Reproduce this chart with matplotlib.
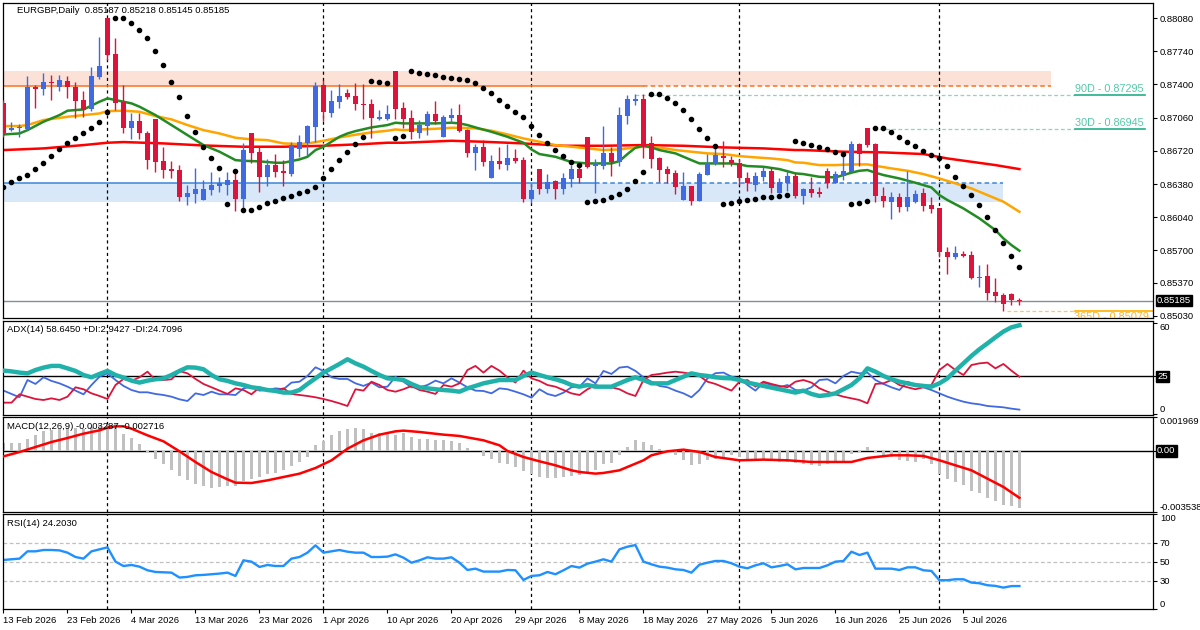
import numpy as np
import matplotlib
matplotlib.use("Agg")
import matplotlib.pyplot as plt
import matplotlib.transforms as mtransforms

plt.rcParams["font.family"] = ["Liberation Sans", "DejaVu Sans"]

# ---- data, bar 0 = 13 Feb 2026, bar 127 = last bar ----
opens = [0.87206, 0.86936, 0.86950, 0.86939, 0.87376, 0.87349, 0.87424, 0.87376, 0.87434, 0.87369,
         0.87240, 0.87144, 0.87479, 0.88076, 0.87711, 0.87223, 0.86956, 0.87025, 0.86905, 0.87045,
         0.86615, 0.86533, 0.86523, 0.86250, 0.86277, 0.86216, 0.86318, 0.86362, 0.86369, 0.86420,
         0.86229, 0.86902, 0.86704, 0.86454, 0.86577, 0.86513, 0.86482, 0.86734, 0.86796, 0.86967,
         0.87390, 0.87110, 0.87223, 0.87308, 0.87281, 0.87202, 0.87199, 0.87049, 0.87049, 0.87537,
         0.87154, 0.87059, 0.86905, 0.86977, 0.87096, 0.86864, 0.87059, 0.87086, 0.86932, 0.86700,
         0.86758, 0.86444, 0.86612, 0.86577, 0.86642, 0.86625, 0.86222, 0.86530, 0.86332, 0.86407,
         0.86332, 0.86434, 0.86533, 0.86861, 0.86564, 0.86567, 0.86694, 0.86608, 0.87076, 0.87233,
         0.87250, 0.86796, 0.86642, 0.86533, 0.86492, 0.86216, 0.86359, 0.86209, 0.86472, 0.86584,
         0.86666, 0.86625, 0.86591, 0.86437, 0.86369, 0.86454, 0.86513, 0.86284, 0.86393, 0.86461,
         0.86257, 0.86325, 0.86298, 0.86513, 0.86393, 0.86461, 0.86506, 0.86789, 0.86956, 0.86789,
         0.86257, 0.86199, 0.86250, 0.86147, 0.86199, 0.86284, 0.86164, 0.86130, 0.85680, 0.85635,
         0.85663, 0.85652, 0.85420, 0.85437, 0.85273, 0.85242, 0.85249, 0.85187]
highs = [0.87240, 0.87018, 0.86994, 0.87486, 0.87393, 0.87520, 0.87496, 0.87496, 0.87486, 0.87428,
         0.87335, 0.87581, 0.87888, 0.88080, 0.87878, 0.87393, 0.87110, 0.87103, 0.86926, 0.87045,
         0.86762, 0.86615, 0.86574, 0.86369, 0.86547, 0.86420, 0.86499, 0.86454, 0.86506, 0.86523,
         0.86796, 0.86902, 0.86762, 0.86632, 0.86683, 0.86625, 0.86813, 0.86881, 0.86984, 0.87428,
         0.87445, 0.87342, 0.87404, 0.87349, 0.87411, 0.87404, 0.87247, 0.87137, 0.87185, 0.87537,
         0.87223, 0.87137, 0.87035, 0.87127, 0.87230, 0.87086, 0.87161, 0.87199, 0.86939, 0.86789,
         0.86830, 0.86677, 0.86762, 0.86789, 0.86738, 0.86653, 0.86393, 0.86530, 0.86482, 0.86420,
         0.86489, 0.86574, 0.86567, 0.86861, 0.86632, 0.86974, 0.86762, 0.87165, 0.87291, 0.87298,
         0.87298, 0.86871, 0.86659, 0.86564, 0.86523, 0.86502, 0.86359, 0.86506, 0.86683, 0.86762,
         0.86820, 0.86670, 0.86632, 0.86506, 0.86506, 0.86557, 0.86557, 0.86444, 0.86516, 0.86489,
         0.86335, 0.86454, 0.86352, 0.86540, 0.86513, 0.86683, 0.86823, 0.86803, 0.86956, 0.86803,
         0.86345, 0.86301, 0.86284, 0.86513, 0.86318, 0.86335, 0.86250, 0.86130, 0.85738, 0.85744,
         0.85697, 0.85697, 0.85550, 0.85560, 0.85413, 0.85267, 0.85267, 0.85218]
lows = [0.86864, 0.86926, 0.86864, 0.86932, 0.87161, 0.87291, 0.87240, 0.87332, 0.87264, 0.87059,
        0.87069, 0.87131, 0.87458, 0.87649, 0.87137, 0.86898, 0.86844, 0.86837, 0.86537, 0.86506,
        0.86437, 0.86437, 0.86209, 0.86168, 0.86188, 0.86216, 0.86267, 0.86301, 0.86267, 0.86106,
        0.86120, 0.86598, 0.86295, 0.86362, 0.86454, 0.86362, 0.86465, 0.86653, 0.86666, 0.86806,
        0.87028, 0.87069, 0.87161, 0.87247, 0.87137, 0.87042, 0.86854, 0.87035, 0.87035, 0.87045,
        0.86950, 0.86837, 0.86854, 0.86881, 0.86991, 0.86864, 0.87001, 0.86915, 0.86659, 0.86523,
        0.86567, 0.86444, 0.86537, 0.86523, 0.86598, 0.86199, 0.86188, 0.86277, 0.86291, 0.86226,
        0.86274, 0.86352, 0.86387, 0.86547, 0.86291, 0.86530, 0.86465, 0.86567, 0.86994, 0.87189,
        0.86649, 0.86540, 0.86403, 0.86387, 0.86277, 0.86216, 0.86164, 0.86209, 0.86472, 0.86574,
        0.86550, 0.86564, 0.86369, 0.86311, 0.86308, 0.86410, 0.86291, 0.86284, 0.86311, 0.86239,
        0.86175, 0.86250, 0.86243, 0.86335, 0.86387, 0.86420, 0.86506, 0.86567, 0.86762, 0.86199,
        0.86147, 0.86021, 0.86089, 0.86106, 0.86182, 0.86106, 0.86079, 0.85628, 0.85458, 0.85608,
        0.85635, 0.85403, 0.85328, 0.85192, 0.85174, 0.85082, 0.85140, 0.85145]
closes = [0.86898, 0.86956, 0.86963, 0.87369, 0.87349, 0.87424, 0.87411, 0.87445, 0.87376, 0.87233,
          0.87137, 0.87486, 0.87588, 0.87701, 0.87212, 0.86956, 0.87025, 0.86898, 0.86625, 0.86605,
          0.86523, 0.86516, 0.86250, 0.86291, 0.86328, 0.86328, 0.86369, 0.86387, 0.86420, 0.86229,
          0.86728, 0.86694, 0.86454, 0.86577, 0.86506, 0.86496, 0.86779, 0.86806, 0.86974, 0.87383,
          0.87120, 0.87230, 0.87281, 0.87274, 0.87195, 0.87192, 0.87052, 0.87062, 0.87096, 0.87151,
          0.87045, 0.86909, 0.86984, 0.87096, 0.87028, 0.87066, 0.87086, 0.86926, 0.86700, 0.86758,
          0.86608, 0.86615, 0.86588, 0.86649, 0.86618, 0.86222, 0.86318, 0.86332, 0.86400, 0.86332,
          0.86441, 0.86533, 0.86444, 0.86557, 0.86591, 0.86694, 0.86601, 0.87086, 0.87250, 0.87250,
          0.86762, 0.86636, 0.86523, 0.86482, 0.86352, 0.86359, 0.86209, 0.86482, 0.86591, 0.86677,
          0.86649, 0.86591, 0.86437, 0.86387, 0.86461, 0.86513, 0.86342, 0.86403, 0.86465, 0.86257,
          0.86325, 0.86291, 0.86274, 0.86393, 0.86482, 0.86513, 0.86789, 0.86683, 0.86779, 0.86260,
          0.86205, 0.86250, 0.86147, 0.86250, 0.86277, 0.86158, 0.86123, 0.85680, 0.85635, 0.85669,
          0.85646, 0.85420, 0.85430, 0.85267, 0.85236, 0.85151, 0.85192, 0.85185]

sar = [0.86352, 0.86403, 0.86437, 0.86472, 0.86533, 0.86591, 0.86666, 0.86738, 0.86796, 0.86854,
       0.86898, 0.86956, 0.87011, 0.87120, 0.88083, 0.88083, 0.88032, 0.87957, 0.87878, 0.87745,
       0.87595, 0.87428, 0.87274, 0.87079, 0.86909, 0.86755, 0.86642, 0.86547, 0.86178, 0.86516,
       0.86113, 0.86113, 0.86147, 0.86182, 0.86209, 0.86236, 0.86260, 0.86291, 0.86308, 0.86352,
       0.86444, 0.86533, 0.86625, 0.86704, 0.86786, 0.86864, 0.87434, 0.87428, 0.87417, 0.86854,
       0.86875, 0.87537, 0.87520, 0.87506, 0.87496, 0.87472, 0.87462, 0.87451, 0.87445, 0.87417,
       0.87359, 0.87315, 0.87240, 0.87178, 0.87117, 0.87062, 0.86974, 0.86881, 0.86803, 0.86728,
       0.86666, 0.86605, 0.86577, 0.86195, 0.86205, 0.86216, 0.86243, 0.86277, 0.86328, 0.86410,
       0.86502, 0.87301, 0.87301, 0.87260, 0.87209, 0.87137, 0.87045, 0.86943, 0.86851, 0.86769,
       0.86175, 0.86185, 0.86202, 0.86212, 0.86222, 0.86243, 0.86250, 0.86257, 0.86267, 0.86820,
       0.86803, 0.86779, 0.86762, 0.86738, 0.86711, 0.86687, 0.86175, 0.86182, 0.86205, 0.86956,
       0.86956, 0.86909, 0.86864, 0.86810, 0.86769, 0.86717, 0.86673, 0.86642, 0.86567, 0.86455,
       0.86362, 0.86270, 0.86164, 0.86042, 0.85908, 0.85779, 0.85642, 0.85529]

# moving averages, read at selected bars
ma_fast_idx = [0, 2, 3, 5, 7, 8, 10, 12, 13, 15, 16, 17, 19, 21, 23, 25, 27, 29, 30, 32,
               34, 35, 36, 37, 38, 39, 40, 41, 42, 43, 44, 46, 48, 49, 50, 52, 54, 56, 57, 58,
               59, 61, 63, 65, 66, 67, 69, 71, 73, 75, 76, 77, 78, 79, 80, 81, 82, 84, 86, 87,
               89, 91, 92, 93, 95, 97, 99, 100, 102, 104, 105, 106, 107, 108, 109, 110, 112, 114, 116, 117,
               118, 120, 122, 124, 125, 126, 127]
ma_fast = [0.86888, 0.86898, 0.86932, 0.87018, 0.87086, 0.87131, 0.87144, 0.87223, 0.87257, 0.87223,
           0.87206, 0.87172, 0.87086, 0.86984, 0.86881, 0.86779, 0.86711, 0.86625, 0.86618, 0.86612,
           0.86598, 0.86598, 0.86615, 0.86632, 0.86659, 0.86728, 0.86762, 0.86813, 0.86864, 0.86898,
           0.86922, 0.86960, 0.86984, 0.87008, 0.87001, 0.87001, 0.87001, 0.87008, 0.87001, 0.86984,
           0.86960, 0.86915, 0.86864, 0.86803, 0.86734, 0.86687, 0.86659, 0.86605, 0.86591, 0.86591,
           0.86591, 0.86615, 0.86687, 0.86752, 0.86772, 0.86755, 0.86728, 0.86694, 0.86625, 0.86591,
           0.86591, 0.86591, 0.86581, 0.86564, 0.86557, 0.86533, 0.86489, 0.86482, 0.86454, 0.86448,
           0.86472, 0.86496, 0.86516, 0.86523, 0.86496, 0.86472, 0.86437, 0.86393, 0.86345, 0.86267,
           0.86216, 0.86130, 0.86028, 0.85908, 0.85823, 0.85755, 0.85697]
ma_mid_idx = [0, 2, 3, 5, 8, 10, 12, 13, 15, 17, 19, 21, 23, 25, 27, 29, 31, 33, 35, 37,
              38, 40, 42, 44, 46, 48, 49, 50, 52, 54, 56, 57, 59, 61, 63, 65, 67, 69, 71, 73,
              75, 77, 78, 80, 82, 84, 86, 88, 90, 92, 94, 96, 98, 99, 100, 102, 104, 106, 108, 109,
              111, 113, 115, 117, 119, 121, 123, 125, 127]
ma_mid = [0.86974, 0.86974, 0.86984, 0.87035, 0.87069, 0.87086, 0.87103, 0.87127, 0.87131, 0.87120,
          0.87076, 0.87042, 0.86984, 0.86932, 0.86898, 0.86854, 0.86837, 0.86830, 0.86796, 0.86789,
          0.86796, 0.86823, 0.86857, 0.86885, 0.86909, 0.86926, 0.86939, 0.86932, 0.86939, 0.86946,
          0.86956, 0.86956, 0.86950, 0.86926, 0.86888, 0.86847, 0.86813, 0.86779, 0.86762, 0.86745,
          0.86728, 0.86734, 0.86745, 0.86762, 0.86752, 0.86728, 0.86711, 0.86694, 0.86687, 0.86666,
          0.86653, 0.86642, 0.86625, 0.86601, 0.86598, 0.86574, 0.86574, 0.86581, 0.86581, 0.86567,
          0.86540, 0.86516, 0.86482, 0.86437, 0.86387, 0.86335, 0.86267, 0.86199, 0.86096]
ma_slow_idx = [0, 5, 10, 13, 15, 20, 25, 30, 35, 40, 45, 48, 50, 56, 60, 65, 70, 75, 80, 85,
               90, 95, 99, 100, 105, 110, 115, 118, 121, 124, 127]
ma_slow = [0.86728, 0.86745, 0.86779, 0.86803, 0.86810, 0.86796, 0.86775, 0.86762, 0.86762, 0.86772,
           0.86789, 0.86803, 0.86803, 0.86823, 0.86813, 0.86796, 0.86772, 0.86772, 0.86779, 0.86772,
           0.86755, 0.86745, 0.86728, 0.86728, 0.86711, 0.86704, 0.86687, 0.86642, 0.86608, 0.86574,
           0.86533]

adx = [28.7, 28.2, 27.4, 26.9, 29.1, 30.7, 31.8, 31.8, 30.2, 28.5,
       25.8, 24.3, 26.5, 28.5, 25.8, 24.1, 22.1, 20.8, 22.1, 23.0,
       23.6, 25.8, 28.5, 30.9, 30.7, 29.6, 25.8, 23.0, 21.9, 20.3,
       19.2, 17.7, 17.0, 15.9, 15.3, 14.2, 14.2, 15.9, 19.9, 23.6,
       27.4, 30.2, 33.1, 36.2, 33.5, 31.3, 28.5, 25.8, 23.6, 23.2,
       22.5, 19.9, 17.7, 17.0, 16.4, 15.9, 15.5, 14.8, 17.0, 18.6,
       20.3, 21.4, 22.5, 22.5, 22.5, 25.2, 27.4, 25.8, 24.3, 23.0,
       21.4, 19.2, 18.1, 19.2, 18.1, 18.1, 18.1, 20.3, 22.5, 24.3,
       22.5, 20.3, 20.3, 20.3, 22.5, 24.7, 26.9, 25.8, 25.2, 24.3,
       23.8, 23.6, 22.5, 20.8, 19.7, 18.6, 17.5, 16.4, 15.25, 14.2,
       15.5, 13.3, 11.95, 12.6, 13.7, 16.4, 19.2, 23.6, 30.2, 28.0,
       25.2, 23.0, 21.4, 20.3, 19.2, 18.6, 18.1, 20.3, 23.6, 28.7,
       33.5, 38.4, 42.8, 46.7, 50.7, 54.5, 57.3, 58.645]
plus_di = [15.5, 13.3, 11.1, 22.5, 19.9, 24.3, 21.9, 20.3, 18.1, 15.5,
           13.05, 19.2, 24.7, 26.9, 22.5, 18.6, 15.9, 14.4, 14.4, 13.3,
           12.6, 11.5, 9.75, 8.65, 13.7, 12.6, 14.8, 13.05, 13.05, 12.6,
           17.0, 18.1, 15.5, 15.9, 17.0, 16.4, 20.8, 21.4, 25.2, 30.9,
           28.5, 24.3, 23.2, 23.2, 20.3, 18.6, 20.8, 17.7, 18.1, 24.7,
           21.4, 17.7, 17.7, 19.2, 22.1, 20.3, 23.6, 20.8, 17.7, 15.5,
           15.25, 13.7, 17.0, 16.4, 14.8, 13.05, 10.85, 16.4, 13.3, 11.95,
           14.15, 17.7, 18.1, 23.6, 20.3, 28.5, 26.5, 30.7, 31.3, 28.5,
           24.3, 21.4, 18.6, 17.7, 15.5, 13.7, 11.1, 15.9, 23.6, 27.0,
           27.4, 24.7, 23.6, 19.2, 15.5, 20.8, 19.2, 17.7, 19.2, 15.9,
           15.5, 17.7, 22.5, 23.0, 20.3, 25.2, 28.0, 26.9, 27.4, 22.5,
           19.9, 17.7, 15.9, 21.4, 19.2, 17.7, 15.9, 13.7, 11.5, 9.75,
           8.2, 7.1, 6.45, 5.35, 4.9, 4.47, 3.6, 2.9427]
minus_di = [7.55, 7.55, 13.05, 11.5, 9.97, 9.3, 10.4, 9.3, 11.5, 17.7,
            16.4, 13.7, 11.95, 9.97, 19.2, 23.2, 21.9, 24.3, 28.0, 22.5,
            22.5, 22.96, 28.46, 26.9, 23.2, 19.9, 17.7, 15.5, 13.3, 17.0,
            15.9, 13.05, 17.7, 15.9, 15.5, 17.0, 13.3, 12.6, 11.95, 11.1,
            9.97, 8.65, 7.1, 5.35, 16.4, 15.5, 21.4, 19.2, 15.9, 14.8,
            16.4, 18.6, 15.9, 14.8, 13.3, 19.2, 18.1, 20.3, 29.1, 31.8,
            27.4, 31.8, 28.7, 24.3, 20.8, 28.7, 23.6, 21.9, 19.2, 18.1,
            15.9, 13.7, 12.6, 16.4, 19.2, 17.7, 17.7, 16.4, 13.7, 11.95,
            22.5, 25.8, 26.5, 27.4, 28.0, 27.4, 26.5, 25.2, 21.4, 19.9,
            17.7, 15.5, 21.4, 22.5, 18.1, 21.4, 19.9, 18.6, 17.7, 21.4,
            22.5, 20.8, 17.0, 14.8, 13.05, 11.5, 10.4, 9.3, 7.1, 19.9,
            20.3, 22.5, 19.2, 17.7, 16.4, 17.7, 19.2, 29.1, 33.1, 29.1,
            25.8, 32.4, 33.5, 34.0, 30.2, 33.1, 28.7, 24.7096]

# MACD values in units of 0.001
macd_hist = [0.462, 0.462, 0.462, 0.713, 0.945, 1.138, 1.196, 1.293, 1.351, 1.331,
             1.293, 1.389, 1.486, 1.583, 1.583, 1.003, 0.752, 0.423, -0.060, -0.447,
             -0.737, -1.084, -1.471, -1.703, -1.896, -2.050, -2.128, -2.089, -2.050, -2.031,
             -1.760, -1.606, -1.509, -1.316, -1.258, -1.123, -0.872, -0.640, -0.350, 0.365,
             0.578, 0.906, 1.138, 1.293, 1.331, 1.293, 1.061, 1.061, 1.003, 0.945,
             1.063, 0.812, 0.715, 0.715, 0.618, 0.618, 0.560, 0.483, 0.174, 0.0,
             -0.309, -0.483, -0.676, -0.773, -0.928, -1.179, -1.314, -1.507, -1.546, -1.546,
             -1.507, -1.449, -1.411, -1.314, -1.121, -0.734, -0.676, -0.251, 0.232, 0.618,
             0.522, 0.329, 0.135, 0.039, -0.251, -0.541, -0.831, -0.734, -0.541, -0.444,
             -0.348, -0.251, -0.348, -0.444, -0.444, -0.483, -0.541, -0.638, -0.638, -0.676,
             -0.734, -0.792, -0.870, -0.734, -0.638, -0.580, -0.193, -0.058, 0.232, -0.058,
             -0.309, -0.348, -0.541, -0.599, -0.638, -0.444, -0.734, -1.314, -1.643, -1.797,
             -1.990, -2.319, -2.415, -2.725, -2.899, -3.111, -3.188, -3.287]
macd_sig_idx = [0, 2, 4, 6, 8, 10, 12, 13, 14, 15, 16, 18, 20, 22, 24, 26, 28, 29, 31, 33,
                35, 37, 39, 41, 43, 45, 47, 49, 50, 52, 55, 57, 60, 62, 63, 65, 67, 69, 71, 72,
                74, 75, 77, 79, 80, 81, 83, 85, 87, 89, 92, 95, 98, 101, 104, 106, 108, 111, 113, 115,
                117, 119, 121, 123, 125, 127]
macd_sig = [-0.311, -0.060, 0.230, 0.520, 0.752, 1.003, 1.196, 1.351, 1.428, 1.428,
            1.293, 0.906, 0.558, -0.021, -0.640, -1.219, -1.645, -1.838, -1.857, -1.703,
            -1.509, -1.316, -0.987, -0.543, 0.133, 0.616, 0.945, 1.138, 1.179, 1.101,
            0.947, 0.870, 0.618, 0.329, 0.0, -0.348, -0.599, -0.831, -1.121, -1.217,
            -1.314, -1.275, -1.121, -0.734, -0.541, -0.251, -0.019, 0.077, -0.058, -0.348,
            -0.541, -0.502, -0.541, -0.638, -0.638, -0.638, -0.406, -0.251, -0.251, -0.290,
            -0.541, -0.831, -1.121, -1.604, -2.087, -2.716]

rsi = [51.8, 52.5, 53.2, 60.9, 60.9, 62.3, 62.3, 61.9, 59.5, 54.9,
       53.2, 60.9, 63.0, 65.1, 50.0, 45.4, 46.5, 44.7, 40.9, 39.1,
       38.8, 38.4, 33.2, 33.9, 35.6, 36.0, 36.7, 37.4, 38.4, 34.9,
       51.4, 50.0, 44.4, 46.5, 45.4, 45.4, 53.2, 54.9, 59.5, 67.2,
       59.5, 60.9, 62.3, 60.5, 59.5, 59.5, 54.9, 54.9, 55.3, 57.7,
       54.2, 48.9, 51.4, 54.6, 53.2, 53.2, 54.6, 48.9, 41.2, 42.6,
       39.5, 39.5, 39.5, 41.2, 40.9, 30.7, 34.9, 35.6, 39.1, 36.7,
       40.9, 45.4, 43.7, 47.9, 50.0, 52.5, 50.0, 63.0, 65.8, 67.5,
       50.0, 47.2, 44.7, 43.7, 41.9, 41.2, 38.4, 46.8, 48.9, 50.7,
       50.7, 48.3, 44.7, 43.0, 46.1, 48.3, 44.0, 45.4, 47.2, 41.9,
       43.3, 43.3, 43.3, 46.1, 50.0, 50.7, 60.5, 57.0, 59.5, 42.6,
       42.6, 42.6, 41.2, 44.0, 44.0, 40.9, 40.2, 30.4, 30.4, 31.4,
       31.4, 27.9, 27.2, 25.1, 24.4, 22.6, 24.2, 24.203]

date_labels = ["13 Feb 2026", "23 Feb 2026", "4 Mar 2026", "13 Mar 2026", "23 Mar 2026",
               "1 Apr 2026", "10 Apr 2026", "20 Apr 2026", "29 Apr 2026", "8 May 2026",
               "18 May 2026", "27 May 2026", "5 Jun 2026", "16 Jun 2026", "25 Jun 2026",
               "5 Jul 2026"]
date_bars = [0, 8, 16, 24, 32, 40, 48, 56, 64, 72, 80, 88, 96, 104, 112, 120]
month_start_bars = [13, 40, 66, 92, 117]

price_ticks = [0.88080, 0.87740, 0.87400, 0.87060, 0.86720, 0.86380, 0.86040, 0.85700, 0.85370, 0.85030]
last_price = 0.85185
resist_zone = (0.87380, 0.87537)
support_zone = (0.86199, 0.86387)
level_90d = 0.87295
level_30d = 0.86945
level_365d = 0.85079

BULL = "#4169E1"
BEAR = "#DC143C"
TEAL_TXT = "#55C8A8"
FS = 6.8

W, H = 1200, 630


def rect(x0, y0, x1, y1):
    return [x0 / W, 1 - y1 / H, (x1 - x0) / W, (y1 - y0) / H]


fig = plt.figure(figsize=(W / 100, H / 100), dpi=100)
ax_main = fig.add_axes(rect(2.7, 3, 1153, 318.3))
ax_adx = fig.add_axes(rect(2.7, 320.5, 1153, 415))
ax_macd = fig.add_axes(rect(2.7, 417, 1153, 512))
ax_rsi = fig.add_axes(rect(2.7, 514.3, 1153, 609))
axes = [ax_main, ax_adx, ax_macd, ax_rsi]

XL = (-0.1, 143.7)
for ax in axes:
    ax.set_xlim(*XL)
    for sp in ax.spines.values():
        sp.set_linewidth(0.9)
        sp.set_color("black")
    ax.yaxis.tick_right()
    ax.tick_params(axis="y", left=False, right=True, length=3, width=0.8, pad=2,
                   labelsize=FS, direction="out")
    for b in month_start_bars:
        ax.axvline(b, color="black", lw=0.9, ls=(0, (2.5, 2.5)), zorder=1)
for ax in axes[:3]:
    ax.set_xticks([])

# ---------------- main price panel ----------------
ax = ax_main
ax.set_ylim(0.85005, 0.88234)
x = np.arange(len(opens))
o, h, l, c = (np.array(v) for v in (opens, highs, lows, closes))
cols = np.where(c >= o, BULL, BEAR)

ax.fill_between([XL[0], 131], resist_zone[0], resist_zone[1], color="#FBE1D6", lw=0, zorder=0)
ax.fill_between([XL[0], 125], support_zone[0], support_zone[1], color="#D8E8F8", lw=0, zorder=0)
ax.plot([XL[0], 80], [resist_zone[0]] * 2, color="#FF7020", lw=1.1, zorder=1)
ax.plot([80, 131], [resist_zone[0]] * 2, color="#FF7020", lw=1.1, ls=(0, (3, 2)), zorder=1)
ax.plot([XL[0], 74], [support_zone[1]] * 2, color="#3A86D8", lw=1.1, zorder=1)
ax.plot([74, 125], [support_zone[1]] * 2, color="#3A86D8", lw=1.1, ls=(0, (3, 2)), zorder=1)

ax.plot([79, 134], [level_90d] * 2, color="#86D8C4", lw=0.9, ls=(0, (3, 2)), zorder=1)
ax.plot([134, 142.7], [level_90d] * 2, color="#20B08A", lw=1.2, zorder=1)
ax.text(134, level_90d + 0.00012, "90D - %.5f" % level_90d, color=TEAL_TXT, fontsize=7.8,
        va="bottom", ha="left")
ax.plot([108.7, 134], [level_30d] * 2, color="#86D8C4", lw=0.9, ls=(0, (3, 2)), zorder=1)
ax.plot([134, 142.7], [level_30d] * 2, color="#20B08A", lw=1.2, zorder=1)
ax.text(134, level_30d + 0.00012, "30D - %.5f" % level_30d, color=TEAL_TXT, fontsize=7.8,
        va="bottom", ha="left")
ax.plot([125.4, 134], [level_365d] * 2, color="#FFC850", lw=0.9, ls=(0, (3, 2)), zorder=1)
ax.plot([134, 143.7], [level_365d] * 2, color="#FFB000", lw=1.2, zorder=1)
ax.text(143.2, level_365d - 0.00005, "365D - %.5f" % level_365d, color="#FFB020", fontsize=7.8,
        va="top", ha="right", clip_on=True)

ax.axhline(last_price, color="#8090A0", lw=1, zorder=1)

ax.plot(ma_slow_idx, ma_slow, color="#FF0000", lw=1.8, zorder=2)
ax.plot(ma_mid_idx, ma_mid, color="#FFA500", lw=1.8, zorder=2)
ax.plot(ma_fast_idx, ma_fast, color="#228B22", lw=1.8, zorder=2)

ax.vlines(x, l, h, colors=cols, lw=1, zorder=3)
body = np.maximum(np.abs(c - o), 0.00005)
ax.bar(x, body, bottom=np.minimum(o, c), width=0.62, color=cols, lw=0, zorder=4)
ax.plot(x, sar, ls="none", marker="o", ms=3.0, color="black", zorder=5)

ax.set_yticks(price_ticks)
ax.set_yticklabels(["%.5f" % t for t in price_ticks])
blend = mtransforms.blended_transform_factory(ax.transAxes, ax.transData)
ax.text(1.0035, last_price, "%.5f" % last_price, transform=blend, color="white", fontsize=FS,
        va="center", ha="left", bbox=dict(boxstyle="square,pad=0.12", fc="black", ec="black"))
ax.text(0.0127, 0.9756, "EURGBP,Daily  %.5f %.5f %.5f %.5f" % (opens[-1], highs[-1], lows[-1], closes[-1]),
        transform=ax.transAxes, fontsize=FS, va="center", ha="left")

# ---------------- ADX panel ----------------
ax = ax_adx
ax.set_ylim(-0.6, 61.8)
ax.axhline(25, color="black", lw=1, zorder=1)
ax.plot(x, plus_di, color=BULL, lw=1.3, zorder=2)
ax.plot(x, minus_di, color=BEAR, lw=1.3, zorder=2)
ax.plot(x, adx, color="#20B2AA", lw=3.2, zorder=3)
ax.set_yticks([60, 25, 0])
ax.set_yticklabels(["60", "", "0"])
blend = mtransforms.blended_transform_factory(ax.transAxes, ax.transData)
ax.text(1.0035, 25, "25", transform=blend, color="white", fontsize=FS, va="center", ha="left",
        bbox=dict(boxstyle="square,pad=0.12", fc="black", ec="black"))
ax.text(0.004, 0.90, "ADX(14) %.4f +DI:%.4f -DI:%.4f" % (adx[-1], plus_di[-1], minus_di[-1]),
        transform=ax.transAxes, fontsize=FS, va="center", ha="left")

# ---------------- MACD panel ----------------
ax = ax_macd
ax.set_ylim(-0.003538, 0.001969)
ax.bar(x, np.array(macd_hist) * 1e-3, width=0.4, color="#C0C0C0", lw=0, zorder=2)
ax.axhline(0, color="black", lw=1, zorder=1)
ax.plot(macd_sig_idx, np.array(macd_sig) * 1e-3, color="#FF0000", lw=1.8, zorder=3)
ax.set_yticks([0.001969, 0, -0.003538])
ax.set_yticklabels(["0.001969", "", "-0.003538"])
blend = mtransforms.blended_transform_factory(ax.transAxes, ax.transData)
ax.text(1.0035, 0, "0.00", transform=blend, color="white", fontsize=FS, va="center", ha="left",
        bbox=dict(boxstyle="square,pad=0.12", fc="black", ec="black"))
ax.text(0.004, 0.898, "MACD(12,26,9) %.6f %.6f" % (macd_hist[-1] * 1e-3, macd_sig[-1] * 1e-3),
        transform=ax.transAxes, fontsize=FS, va="center", ha="left")

# ---------------- RSI panel ----------------
ax = ax_rsi
ax.set_ylim(0, 100)
for lv in (70, 50, 30):
    ax.axhline(lv, color="#C0C0C0", lw=0.9, ls=(0, (3, 2)), zorder=1)
ax.plot(x, rsi, color="#1E90FF", lw=1.7, zorder=2)
ax.set_yticks([100, 70, 50, 30, 0])
ax.set_yticklabels(["100", "70", "50", "30", "0"])
ax.text(0.004, 0.898, "RSI(14) %.4f" % rsi[-1], transform=ax.transAxes, fontsize=FS,
        va="center", ha="left")
ax.set_xticks(date_bars)
ax.set_xticklabels(date_labels)
ax.tick_params(axis="x", length=3, width=0.8, pad=2, labelsize=FS, direction="out")
for t in ax.get_xticklabels():
    t.set_ha("left")

# keep the edge labels inside their panels, like the terminal does
for ax_i in (ax_adx, ax_macd, ax_rsi):
    ticks = ax_i.yaxis.get_major_ticks()
    ticks[0].label2.set_va("top")
    ticks[-1].label2.set_va("bottom")

fig.savefig("out.png", dpi=100)
